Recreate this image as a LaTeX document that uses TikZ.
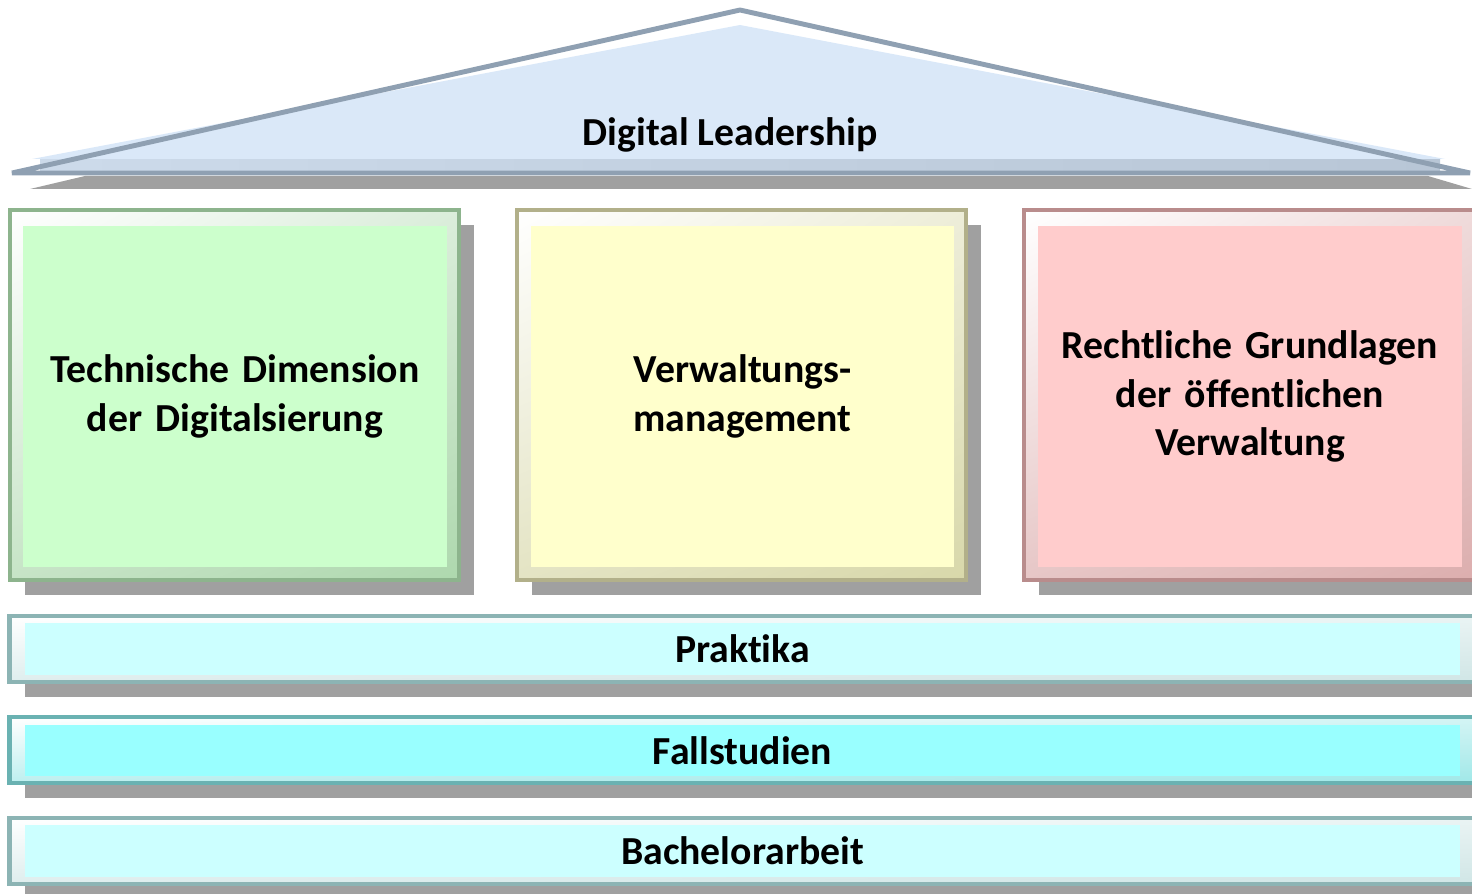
\documentclass[tikz,border=0pt]{standalone}
\usepackage{fontspec}
\setmainfont{Carlito}[Ligatures=NoCommon]
\usepackage{xcolor}
\usepackage{tikz}
\usetikzlibrary{shapes,positioning,calc,shadows,shadings,backgrounds}

\definecolor{roofFill}{HTML}{DAE8F8}
\definecolor{roofLine}{HTML}{8FA0B2}
\definecolor{roofBand}{HTML}{B8C6D6}
\definecolor{shadowGray}{HTML}{A0A0A0}
\definecolor{grnIn}{HTML}{CCFFCC}
\definecolor{grnLine}{HTML}{8DB48D}
\definecolor{grnBev}{HTML}{AED8AE}
\definecolor{ylwIn}{HTML}{FFFFCC}
\definecolor{ylwLine}{HTML}{B2B08A}
\definecolor{ylwBev}{HTML}{D8D8AA}
\definecolor{redIn}{HTML}{FFCCCC}
\definecolor{redLine}{HTML}{B98C8C}
\definecolor{redBev}{HTML}{DCAEAE}
\definecolor{cyaIn}{HTML}{CCFFFF}
\definecolor{cyaLine}{HTML}{8CB4B4}
\definecolor{cyaBev}{HTML}{D0E6E6}
\definecolor{tqsIn}{HTML}{99FFFF}
\definecolor{tqsLine}{HTML}{6AB2B2}
\definecolor{tqsBev}{HTML}{A0E8E8}

\begin{document}
\begin{tikzpicture}[
    x=0.01cm, y=-0.01cm,
    txt/.style={font=\fontsize{11.3}{13.7}\selectfont\bfseries, align=center},
    frame/.style={rectangle, draw=#1Line, line width=1.2pt,
                  upper left=white, upper right=#1Bev!45, lower left=#1Bev!70,
                  lower right=#1Bev,
                  drop shadow={shadow xshift=0.15cm, shadow yshift=-0.15cm,
                               fill=shadowGray, opacity=1}},
    pillar/.style={frame=#1, minimum width=4.49cm, minimum height=3.7cm},
    pillarIn/.style={rectangle, fill=#1In, minimum width=4.21cm,
                     minimum height=3.41cm, text width=4cm, txt},
    bar/.style={frame=#1, minimum width=14.64cm, minimum height=0.66cm},
    barIn/.style={rectangle, fill=#1In, minimum width=14.35cm,
                  minimum height=0.36cm, txt},
  ]
  \useasboundingbox (0,0) rectangle (1472,894);

  % Roof
  \fill[shadowGray] (30,189) -- (85,176) -- (1428,176) -- (1472,189) -- cycle;
  \fill[roofFill] (32,159) -- (740,25) -- (1445,159) -- cycle;
  \shade[left color=roofFill!60!roofBand, right color=roofBand]
    (40,160) rectangle (1440,172);
  \draw[roofLine, line width=1.4pt, line join=bevel]
    (12,173) -- (740,10) -- (1470,173) -- cycle;
  \node[txt] (roof) at (730,135) {Digital Leadership};

  % Pillars
  \node[pillar=grn] (p1) at (234.5,395) {};
  \node[pillarIn=grn] (p1in) at (235,396.5) {Technische Dimension\\der Digitalsierung};
  \node[pillar=ylw] (p2) at (741.5,395) {};
  \node[pillarIn=ylw] (p2in) at (742.5,396.5) {Verwaltungs-\\management};
  \node[pillar=red] (p3) at (1249,395) {};
  \node[pillarIn=red] (p3in) at (1250,396.5) {Rechtliche Grundlagen\\der öffentlichen\\Verwaltung};

  % Foundation
  \node[bar=cya] (b1) at (742,649) {};
  \node[barIn=cya] (b1in) at (742.5,649) {Praktika};
  \node[bar=tqs] (b2) at (742,750) {};
  \node[barIn=tqs] (b2in) at (742.5,750.5) {Fallstudien};
  \node[bar=cya] (b3) at (742,851) {};
  \node[barIn=cya] (b3in) at (742.5,851) {Bachelorarbeit};
\end{tikzpicture}
\end{document}
